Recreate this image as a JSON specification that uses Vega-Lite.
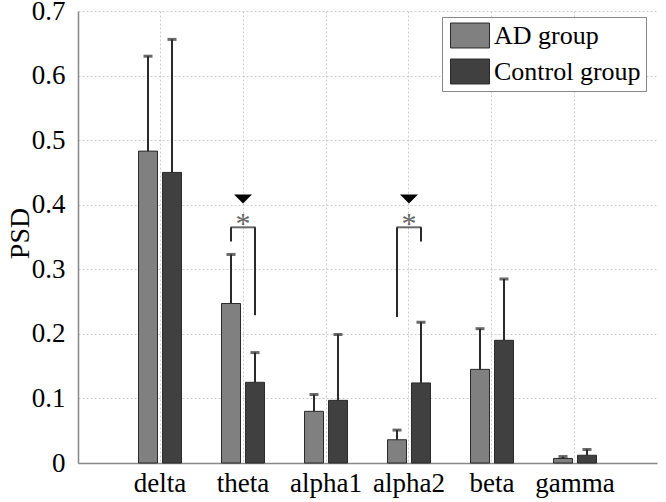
{
  "$schema": "https://vega.github.io/schema/vega-lite/v6.json",
  "width": 579,
  "height": 452,
  "autosize": "none",
  "padding": {"left": 78, "top": 11, "right": 9, "bottom": 39},
  "background": "white",
  "config": {
    "view": {"stroke": null},
    "font": "Liberation Serif, Times New Roman, serif"
  },
  "datasets": {
    "bars": [
      {"band": "delta", "group": "AD group", "value": 0.483, "hi": 0.630},
      {"band": "delta", "group": "Control group", "value": 0.450, "hi": 0.656},
      {"band": "theta", "group": "AD group", "value": 0.247, "hi": 0.323},
      {"band": "theta", "group": "Control group", "value": 0.125, "hi": 0.171},
      {"band": "alpha1", "group": "AD group", "value": 0.080, "hi": 0.106},
      {"band": "alpha1", "group": "Control group", "value": 0.097, "hi": 0.199},
      {"band": "alpha2", "group": "AD group", "value": 0.036, "hi": 0.051},
      {"band": "alpha2", "group": "Control group", "value": 0.124, "hi": 0.218},
      {"band": "beta", "group": "AD group", "value": 0.145, "hi": 0.208},
      {"band": "beta", "group": "Control group", "value": 0.190, "hi": 0.285},
      {"band": "gamma", "group": "AD group", "value": 0.007, "hi": 0.010},
      {"band": "gamma", "group": "Control group", "value": 0.012, "hi": 0.021}
    ],
    "brackets": [
      {"band": "theta", "group": "AD group", "y1": 0.343, "y2": 0.365},
      {"band": "theta", "group": "Control group", "y1": 0.229, "y2": 0.365},
      {"band": "alpha2", "group": "AD group", "y1": 0.226, "y2": 0.365},
      {"band": "alpha2", "group": "Control group", "y1": 0.343, "y2": 0.365}
    ],
    "marks": [
      {"band": "theta", "bracket": 0.365, "star": 0.378, "tri": 0.409},
      {"band": "alpha2", "bracket": 0.365, "star": 0.378, "tri": 0.409}
    ]
  },
  "layer": [
    {
      "data": {"name": "bars"},
      "mark": {"type": "bar", "stroke": "#2a2a2a", "strokeWidth": 1},
      "encoding": {
        "x": {
          "field": "band", "type": "nominal",
          "scale": {"domain": ["delta", "theta", "alpha1", "alpha2", "beta", "gamma"], "paddingInner": 0.4, "paddingOuter": 0.688},
          "axis": {
            "title": null, "labelAngle": 0, "labelFont": "Liberation Serif, Times New Roman, serif", "labelFontSize": 27, "labelColor": "black",
            "labelPadding": 7, "ticks": false, "domainColor": "#888888", "domainWidth": 1.5,
            "grid": true, "gridDash": [2, 2], "gridColor": "#cccccc", "bandPosition": 0.5
          }
        },
        "xOffset": {
          "field": "group", "type": "nominal",
          "scale": {"domain": ["AD group", "Control group"], "paddingInner": 0.208, "paddingOuter": 0.142}
        },
        "y": {
          "field": "value", "type": "quantitative",
          "scale": {"domain": [0, 0.7], "nice": false},
          "axis": {
            "title": "PSD", "titleFont": "Liberation Serif, Times New Roman, serif", "titleFontSize": 28, "titleFontWeight": "normal", "titleColor": "black",
            "titleX": -50, "titleY": 222, "titleBaseline": "alphabetic", "titleAlign": "center", "titleAngle": 270,
            "values": [0, 0.1, 0.2, 0.3, 0.4, 0.5, 0.6, 0.7], "format": ".1~f",
            "labelFont": "Liberation Serif, Times New Roman, serif", "labelFontSize": 27, "labelColor": "black", "labelPadding": 13,
            "ticks": false, "domainColor": "#888888", "domainWidth": 1.5,
            "grid": true, "gridDash": [2, 2], "gridColor": "#cccccc"
          }
        },
        "color": {
          "field": "group", "type": "nominal",
          "scale": {"domain": ["AD group", "Control group"], "range": ["#808080", "#404040"]},
          "legend": {
            "title": null, "orient": "none", "legendX": 364, "legendY": 6,
            "fillColor": "white", "strokeColor": "#888888", "padding": 5,
            "symbolType": "M-0.77,-0.96H2.23V0.96H-0.77Z", "symbolSize": 676, "symbolStrokeColor": "#2a2a2a", "symbolStrokeWidth": 1,
            "labelFont": "Liberation Serif, Times New Roman, serif", "labelFontSize": 26, "labelColor": "black", "labelOffset": 20,
            "rowPadding": 7, "labelLimit": 300
          }
        }
      }
    },
    {
      "data": {"name": "bars"},
      "mark": {"type": "rule", "color": "#2a2a2a", "strokeWidth": 2},
      "encoding": {
        "x": {"field": "band", "type": "nominal"},
        "xOffset": {"field": "group", "type": "nominal"},
        "y": {"field": "value", "type": "quantitative"},
        "y2": {"field": "hi"}
      }
    },
    {
      "data": {"name": "bars"},
      "mark": {"type": "tick", "color": "#2a2a2a", "orient": "horizontal", "size": 9, "thickness": 3},
      "encoding": {
        "x": {"field": "band", "type": "nominal"},
        "xOffset": {"field": "group", "type": "nominal"},
        "y": {"field": "hi", "type": "quantitative"}
      }
    },
    {
      "data": {"name": "brackets"},
      "mark": {"type": "rule", "color": "#2a2a2a", "strokeWidth": 2},
      "encoding": {
        "x": {"field": "band", "type": "nominal"},
        "xOffset": {"field": "group", "type": "nominal"},
        "y": {"field": "y1", "type": "quantitative"},
        "y2": {"field": "y2"}
      }
    },
    {
      "data": {"name": "marks"},
      "mark": {"type": "tick", "color": "#2a2a2a", "orient": "horizontal", "size": 25, "thickness": 2},
      "encoding": {
        "x": {"field": "band", "type": "nominal"},
        "y": {"field": "bracket", "type": "quantitative"}
      }
    },
    {
      "data": {"name": "marks"},
      "mark": {"type": "text", "text": "*", "color": "#666666", "fontSize": 30, "font": "Liberation Serif, Times New Roman, serif", "baseline": "middle", "dy": 5},
      "encoding": {
        "x": {"field": "band", "type": "nominal"},
        "y": {"field": "star", "type": "quantitative"}
      }
    },
    {
      "data": {"name": "marks"},
      "mark": {"type": "point", "shape": "M-1,-0.5L1,-0.5L0,0.5Z", "filled": true, "color": "black", "opacity": 1, "size": 324},
      "encoding": {
        "x": {"field": "band", "type": "nominal"},
        "y": {"field": "tri", "type": "quantitative"}
      }
    }
  ]
}
